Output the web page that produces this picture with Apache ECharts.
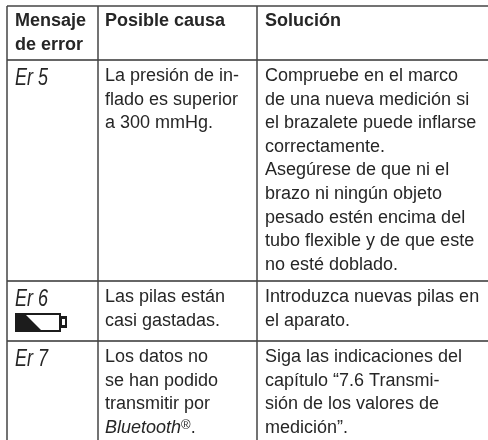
<!DOCTYPE html>
<html>
<head>
<meta charset="utf-8">
<style>
  html, body { margin: 0; padding: 0; background: #fff; }
  #main { width: 488px; height: 440px; }
</style>
<script src="https://cdn.jsdelivr.net/npm/echarts@6/dist/echarts.min.js"></script>
</head>
<body>
<div id="main"></div>
<script>
var headers = [['Mensaje', 'de error'], ['Posible causa'], ['Solución']];
var errorCodes = ['Er 5', 'Er 6', 'Er 7'];
var causes = [
  ['La presión de in-', 'flado es superior', 'a 300 mmHg.'],
  ['Las pilas están', 'casi gastadas.'],
  ['Los datos no', 'se han podido', 'transmitir por', '{i|Bluetooth}{s|®}.']
];
var solutions = [
  ['Compruebe en el marco', 'de una nueva medición si', 'el brazalete puede inflarse', 'correctamente.',
    'Asegúrese de que ni el', 'brazo ni ningún objeto', 'pesado estén encima del', 'tubo flexible y de que este', 'no esté doblado.'],
  ['Introduzca nuevas pilas en', 'el aparato.'],
  ['Siga las indicaciones del', 'capítulo “7.6 Transmi-', 'sión de los valores de', 'medición”.']
];

// layout of the table, in page pixels
var colEdges = [7, 98, 257, 488];
var textLeft = [15, 105, 265];
var rowEdges = [6, 60, 281, 341, 440];
var lineH = 23.6;
var textColor = '#262626';
var fontSize = 18;

var textData = [];
var textItems = [];
function addCell(col, top, lines, kind) {
  lines.forEach(function (s, i) {
    textItems.push({ text: s, kind: kind });
    textData.push([textLeft[col], top + i * lineH]);
  });
}
headers.forEach(function (lines, c) { addCell(c, 21.5, lines, 'head'); });
errorCodes.forEach(function (s, r) { addCell(0, rowEdges[r + 1] + 18, [s], 'code'); });
causes.forEach(function (lines, r) { addCell(1, rowEdges[r + 1] + 16, lines, 'body'); });
solutions.forEach(function (lines, r) { addCell(2, rowEdges[r + 1] + 16, lines, 'body'); });

var rules = [
  [7, 6, 488, 6, 1.5, '#444'], [7, 60, 488, 60, 2, '#666'], [7, 281, 488, 281, 2, '#666'], [7, 341, 488, 341, 2, '#666'],
  [7, 6, 7, 440, 1.5, '#444'], [98, 6, 98, 440, 1.5, '#444'], [257, 6, 257, 440, 1.5, '#444']
];

// low battery icon under Er 6
var batteryBody = [[15, 313], [61, 313], [61, 332], [15, 332]];
var batteryEmpty = [[26, 315], [59, 315], [59, 330], [41, 330]];
var batteryTip = [[61, 316], [67, 316], [67, 328], [61, 328]];
var batteryTipInner = [[62, 319], [65, 319], [65, 325], [62, 325]];
var batteryParts = [batteryBody, batteryEmpty, batteryTip, batteryTipInner];
var batteryFills = ['#1c1c1c', '#fff', '#1c1c1c', '#fff'];

var chart = echarts.init(document.getElementById('main'), null, { renderer: 'canvas' });
chart.setOption({
  animation: false,
  backgroundColor: '#fff',
  grid: { left: 0, right: 0, top: 0, bottom: 0 },
  xAxis: { type: 'value', min: 0, max: 488, show: false },
  yAxis: { type: 'value', min: 0, max: 440, inverse: true, show: false },
  series: [
    {
      type: 'custom',
      coordinateSystem: 'cartesian2d',
      silent: true,
      data: rules.map(function (r) { return r.slice(0, 5); }),
      renderItem: function (params, api) {
        var a = api.coord([api.value(0), api.value(1)]);
        var b = api.coord([api.value(2), api.value(3)]);
        return {
          type: 'line',
          shape: { x1: a[0], y1: a[1], x2: b[0], y2: b[1] },
          style: { stroke: rules[params.dataIndex][5], lineWidth: api.value(4) }
        };
      }
    },
    {
      type: 'custom',
      coordinateSystem: 'cartesian2d',
      silent: true,
      data: batteryFills.map(function (c, i) { return [i]; }),
      renderItem: function (params, api) {
        return {
          type: 'polygon',
          shape: { points: batteryParts[params.dataIndex].map(function (p) { return api.coord(p); }) },
          style: { fill: batteryFills[params.dataIndex] }
        };
      }
    },
    {
      type: 'custom',
      coordinateSystem: 'cartesian2d',
      silent: true,
      data: textData,
      renderItem: function (params, api) {
        var p = api.coord([api.value(0), api.value(1)]);
        var item = textItems[params.dataIndex];
        var isCode = item.kind === 'code';
        var font = fontSize + 'px "Liberation Sans"';
        if (item.kind === 'head') font = 'bold ' + font;
        if (isCode) font = 'italic ' + font;
        return {
          type: 'text',
          x: p[0],
          y: p[1],
          scaleY: isCode ? 1.3 : 1,
          style: {
            text: item.text,
            font: font,
            fill: textColor,
            textAlign: 'left',
            textVerticalAlign: 'middle',
            rich: {
              i: { font: 'italic ' + fontSize + 'px "Liberation Sans"', fill: textColor },
              s: { font: '13px "Liberation Sans"', fill: textColor, verticalAlign: 'top' }
            }
          }
        };
      }
    }
  ]
});
</script>
</body>
</html>
